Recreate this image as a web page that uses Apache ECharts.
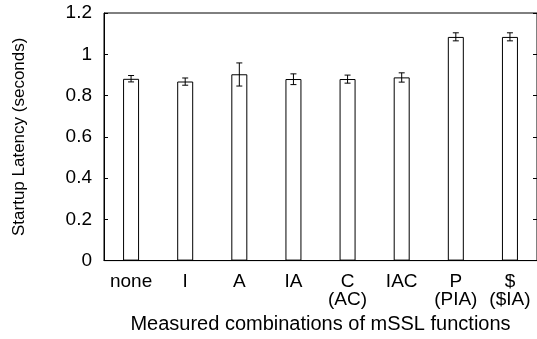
<!DOCTYPE html>
<html>
<head>
<meta charset="utf-8">
<script src="https://cdn.jsdelivr.net/npm/echarts@6/dist/echarts.min.js"></script>
<style>
html,body{margin:0;padding:0;background:#fff;}
#c{width:537px;height:339px;}
</style>
</head>
<body>
<div id="c"></div>
<script>
const categories = ['none', 'I', 'A', 'IA', 'C\n(AC)', 'IAC', 'P\n(PIA)', '$\n($IA)'];
const latency = [0.881, 0.868, 0.903, 0.880, 0.880, 0.888, 1.084, 1.084];
const errLow = [0.866, 0.850, 0.846, 0.853, 0.860, 0.865, 1.065, 1.065];
const errHigh = [0.897, 0.885, 0.958, 0.905, 0.899, 0.910, 1.104, 1.104];
const yTicks = [0, 0.2, 0.4, 0.6, 0.8, 1, 1.2];

const FONT = '"Liberation Sans", Arial, Helvetica, sans-serif';
const chart = echarts.init(document.getElementById('c'), null, {renderer: 'canvas'});

const errData = categories.map((c, i) => [i, errLow[i], errHigh[i]]);

chart.setOption({
  animation: false,
  backgroundColor: '#fff',
  grid: {left: 104, right: -1, top: 13, bottom: 71, show: true, borderColor: '#000', borderWidth: 1},
  xAxis: [{
    type: 'category', data: categories, position: 'bottom',
    axisLine: {lineStyle: {color: '#000', width: 1}},
    axisTick: {inside: true, length: 4, alignWithLabel: true, lineStyle: {color: '#000'}},
    axisLabel: {color: '#000', fontFamily: FONT, fontSize: 19, lineHeight: 18, margin: 12, interval: 0},
    name: 'Measured combinations of mSSL functions', nameLocation: 'middle', nameGap: 53,
    nameTextStyle: {color: '#000', fontFamily: FONT, fontSize: 20}
  }, {
    type: 'category', data: categories, position: 'top',
    axisLine: {show: false},
    axisTick: {inside: true, length: 4, alignWithLabel: true, lineStyle: {color: '#000'}},
    axisLabel: {show: false}
  }],
  yAxis: [{
    type: 'value', min: 0, max: 1.2, interval: 0.2,
    axisLine: {show: true, lineStyle: {color: '#000'}},
    axisTick: {show: true, inside: true, length: 4, lineStyle: {color: '#000'}},
    splitLine: {show: false},
    axisLabel: {color: '#000', fontFamily: FONT, fontSize: 19, margin: 12,
      formatter: v => { const t = yTicks.find(x => Math.abs(x - v) < 1e-9); return t === undefined ? '' : String(t); }},
    name: 'Startup Latency (seconds)', nameLocation: 'middle', nameGap: 76,
    nameTextStyle: {color: '#000', fontFamily: FONT, fontSize: 17}
  }, {
    type: 'value', min: 0, max: 1.2, interval: 0.2, position: 'right',
    axisLine: {show: false},
    axisTick: {show: true, inside: true, length: 4, lineStyle: {color: '#000'}},
    axisLabel: {show: false}, splitLine: {show: false}
  }],
  series: [{
    type: 'bar', data: latency, barWidth: 16,
    itemStyle: {color: '#fff', borderColor: '#000', borderWidth: 1},
    emphasis: {disabled: true}
  }, {
    type: 'custom', data: errData, z: 10,
    renderItem: function (params, api) {
      const x = api.value(0);
      const lo = api.coord([x, api.value(1)]);
      const hi = api.coord([x, api.value(2)]);
      const hw = 3;
      const st = {stroke: '#000', lineWidth: 1};
      return {type: 'group', children: [
        {type: 'line', shape: {x1: lo[0], y1: lo[1], x2: hi[0], y2: hi[1]}, style: st},
        {type: 'line', shape: {x1: lo[0] - hw, y1: lo[1], x2: lo[0] + hw, y2: lo[1]}, style: st},
        {type: 'line', shape: {x1: hi[0] - hw, y1: hi[1], x2: hi[0] + hw, y2: hi[1]}, style: st}
      ]};
    }
  }]
});
</script>
</body>
</html>
